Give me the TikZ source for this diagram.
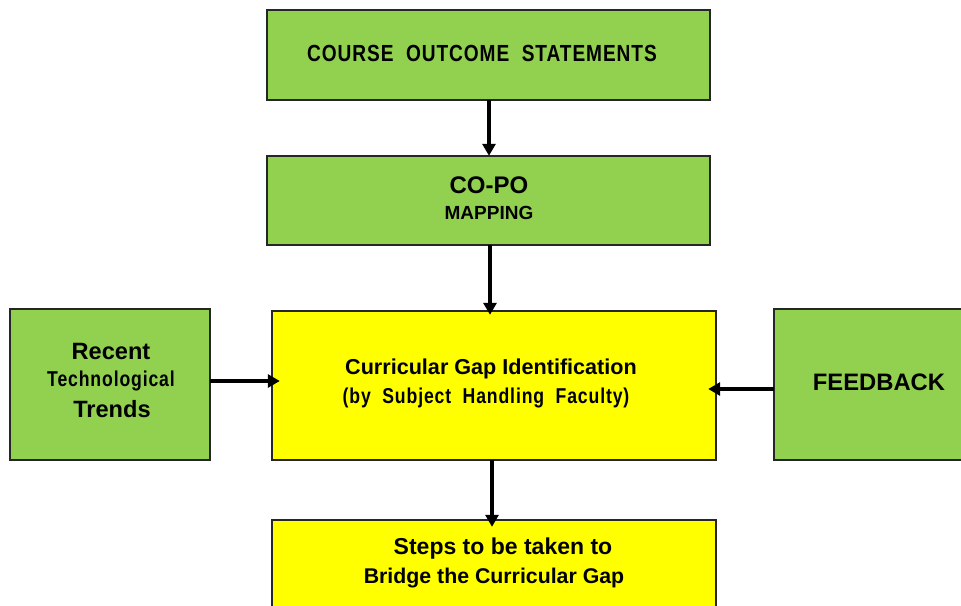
\documentclass[tikz,border=0pt]{standalone}
\usepackage{fontspec}
\setmainfont{Liberation Sans}
\newfontfamily\narrowfont{Liberation Sans}[FakeStretch=0.82,LetterSpace=4]
\usetikzlibrary{arrows.meta}
\definecolor{boxgreen}{HTML}{92D050}
\definecolor{boxyellow}{HTML}{FFFF00}
\tikzset{
  greenbox/.style={draw=black!85, line width=1.8pt, fill=boxgreen},
  yellowbox/.style={draw=black!85, line width=2pt, fill=boxyellow},
  flow/.style={line width=3.2pt, -{Triangle[length=12pt,width=13pt]}},
  lbl/.style={font=\bfseries, align=center, inner sep=0pt},
}
\begin{document}
\begin{tikzpicture}[x=1pt,y=-1pt]
\useasboundingbox (0,0) rectangle (961,605);
% boxes
\path[greenbox] (267,10) rectangle (710,100);
\node (cos) at (488.5,55) [minimum width=443pt, minimum height=90pt] {};
\path[greenbox] (267,156) rectangle (710,245);
\node (copo) at (488.5,200.5) [minimum width=443pt, minimum height=89pt] {};
\path[yellowbox] (272,311) rectangle (716,460);
\node (gap) at (494,385.5) [minimum width=444pt, minimum height=149pt] {};
\path[greenbox] (10,309) rectangle (210,460);
\node (trend) at (110,384.5) [minimum width=200pt, minimum height=151pt] {};
\path[greenbox] (774,309) rectangle (975,460);
\node (fb) at (874.5,384.5) [minimum width=201pt, minimum height=151pt] {};
\path[yellowbox] (272,520) rectangle (716,620);
\node (steps) at (494,570) [minimum width=444pt, minimum height=100pt] {};
% texts
\node[lbl] at (482,53) {\fontsize{23.3}{26}\selectfont\narrowfont COURSE\ \ OUTCOME\ \ STATEMENTS};
\node[lbl] at (489,185) {\fontsize{24}{26}\selectfont CO-PO};
\node[lbl] at (489,213) {\fontsize{19}{22}\selectfont MAPPING};
\node[lbl] at (491,369) {\fontsize{21.6}{24}\selectfont Curricular Gap Identification};
\node[lbl] at (486,398) {\fontsize{21.5}{24}\selectfont\narrowfont (by\ \ Subject\ \ Handling\ \ Faculty)};
\node[lbl] at (111,351) {\fontsize{23.6}{26}\selectfont Recent};
\node[lbl] at (111,381) {\fontsize{21.5}{24}\selectfont\narrowfont Technological};
\node[lbl] at (112,409) {\fontsize{23.6}{26}\selectfont Trends};
\node[lbl] at (879,382) {\fontsize{23.8}{26}\selectfont FEEDBACK};
\node[lbl] at (503,549) {\fontsize{23}{26}\selectfont Steps to be taken to};
\node[lbl] at (494,578) {\fontsize{21.3}{24}\selectfont Bridge the Curricular\ Gap};
% connectors
\coordinate (a1) at (489,100);
\draw[flow] (cos.south -| a1) -- (copo.north -| a1);
\coordinate (a2) at (490,245);
\draw[flow] (copo.south -| a2) -- ([yshift=-4pt]gap.north -| a2);
\coordinate (a3) at (210,381);
\draw[flow] (trend.east |- a3) -- ([xshift=8pt]gap.west |- a3);
\coordinate (a4) at (774,389);
\draw[flow] (fb.west |- a4) -- ([xshift=-8pt]gap.east |- a4);
\coordinate (a5) at (492,460);
\draw[flow] (gap.south -| a5) -- ([yshift=-7pt]steps.north -| a5);
\end{tikzpicture}
\end{document}
